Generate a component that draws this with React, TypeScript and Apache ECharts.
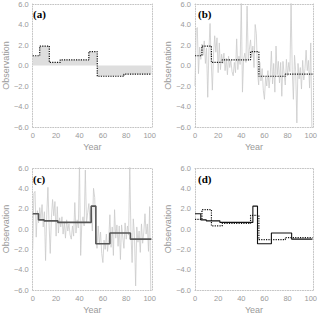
import React, { useEffect, useRef } from "react";
import * as echarts from "echarts";

// Noisy observation series, one value per year (0..101)
const noise: number[] = [
  -2.0, 3.5, 3.7, -0.8, 1.8, 0.6, 2.1, 1.0, 2.4, 0.2,
  1.7, -3.1, 1.4, 4.1, 0.4, -2.4, 1.1, 2.9, 1.3, 2.7,
  -0.7, 2.2, -0.4, 1.1, 0.2, 1.2, -0.5, 0.7, -0.9, 0.9,
  -0.2, 0.5, -0.6, -1.0, 0.3, -0.7, 2.6, -0.4, 0.9, 0.1,
  6.4, -2.6, 0.6, 1.2, 0.3, 5.8, 0.6, 1.6, 2.5, 0.8,
  1.9, -0.2, 4.0, 3.1, -0.6, -1.9, 0.3, -1.5, -0.3, -2.4,
  -3.3, -1.1, -2.0, -0.5, -2.2, -1.0, 1.4, -1.8, 0.2, -2.6,
  1.9, -0.9, 0.4, -1.7, 0.3, -3.0, 0.4, -0.8, -1.9, 0.6,
  -1.0, 0.3, -0.6, 6.2, -0.4, -3.3, 1.0, -0.6, -5.6, 0.2,
  -1.3, -0.2, -2.3, 0.5, -1.4, -0.3, 1.5, -0.5, 0.5, -2.2,
  2.2, -6.5,
];

// Dotted step (panels a, b, d): change points and levels
const dottedBreaks: number[] = [0, 6, 14.2, 23.5, 48, 55.2, 78, 101.5];
const dottedLevels: number[] = [0.95, 1.9, 0.3, 0.55, 1.35, -1.05, -0.85];

// Solid step (panels c, d)
const solidBreaks: number[] = [0, 5, 9.7, 21.5, 50, 54, 66, 83.5, 101.5];
const solidLevels: number[] = [1.5, 0.9, 0.8, 0.65, 2.25, -1.45, -0.4, -1.0];

const panelLabels: string[] = ["(a)", "(b)", "(c)", "(d)"];
const yTicks: number[] = [-6, 6, 2]; // min, max, interval
const xTicks: number[] = [0, 102, 20];

function stepData(breaks: number[], levels: number[]) {
  const d: number[][] = levels.map((v, i) => [breaks[i], v]);
  d.push([breaks[breaks.length - 1], levels[levels.length - 1]]);
  return d;
}

const grids = [
  { left: 30, top: 3, width: 122, height: 124 },
  { left: 195, top: 3, width: 120, height: 124 },
  { left: 30, top: 168, width: 122, height: 124 },
  { left: 195, top: 168, width: 120, height: 124 },
];

const FONT = "Liberation Sans, Arial, sans-serif";
const GRAY = "#9a9a9a";
const FRAME = "#c4c4c4";

export default function App() {
  const ref = useRef<HTMLDivElement>(null);
  useEffect(() => {
    if (!ref.current) return;
    const chart = echarts.init(ref.current, undefined, { renderer: "svg" });
    const noiseData = noise.map((v, i) => [i, v]);
    const dotted = stepData(dottedBreaks, dottedLevels);
    const solid = stepData(solidBreaks, solidLevels);

    const xAxis: any[] = [];
    const yAxis: any[] = [];
    grids.forEach((g, i) => {
      const frameLine = { show: true, onZero: false, lineStyle: { color: FRAME, type: [1, 1.5], width: 1 } };
      xAxis.push({
        type: "value", gridIndex: i, min: xTicks[0], max: xTicks[1], interval: xTicks[2],
        position: "bottom", axisLine: frameLine, axisTick: { show: false }, splitLine: { show: false },
        axisLabel: {
          color: GRAY, fontSize: 7.5, fontFamily: FONT, margin: 4,
          formatter: (v: number) => (v % 20 === 0 ? String(v) : ""),
        },
        name: "Year", nameLocation: "middle", nameGap: 15,
        nameTextStyle: { color: GRAY, fontSize: 9, fontFamily: FONT },
      });
      xAxis.push({
        type: "value", gridIndex: i, min: xTicks[0], max: xTicks[1], position: "top",
        axisLine: frameLine, axisTick: { show: false }, axisLabel: { show: false }, splitLine: { show: false },
      });
      yAxis.push({
        type: "value", gridIndex: i, min: yTicks[0], max: yTicks[1], interval: yTicks[2],
        position: "left", axisLine: frameLine, axisTick: { show: false }, splitLine: { show: false },
        axisLabel: {
          color: GRAY, fontSize: 7.5, fontFamily: FONT, margin: 4,
          formatter: (v: number) => v.toFixed(1).replace("-", "\u2212"),
        },
        name: "Observation", nameLocation: "middle", nameGap: i % 2 === 0 ? 19 : 21,
        nameTextStyle: { color: GRAY, fontSize: 9, fontFamily: FONT },
      });
      yAxis.push({
        type: "value", gridIndex: i, min: yTicks[0], max: yTicks[1], position: "right",
        axisLine: frameLine, axisTick: { show: false }, axisLabel: { show: false }, splitLine: { show: false },
      });
    });

    const ax = (i: number) => ({ xAxisIndex: 2 * i, yAxisIndex: 2 * i });
    const dottedStyle = { color: "#111", type: "dotted", width: 1.2 };
    const series: any[] = [
      {
        type: "line", ...ax(0), data: dotted, step: "end", symbol: "none",
        lineStyle: dottedStyle, areaStyle: { color: "#dedede", opacity: 1, origin: 0 },
      },
      { type: "line", ...ax(1), data: noiseData, symbol: "none", lineStyle: { color: "#cacaca", width: 0.8 } },
      { type: "line", ...ax(1), data: dotted, step: "end", symbol: "none", lineStyle: dottedStyle },
      { type: "line", ...ax(2), data: noiseData, symbol: "none", lineStyle: { color: "#cacaca", width: 0.8 } },
      { type: "line", ...ax(2), data: solid, step: "end", symbol: "none", lineStyle: { color: "#555", width: 1.6 } },
      { type: "line", ...ax(3), data: dotted, step: "end", symbol: "none", lineStyle: dottedStyle },
      { type: "line", ...ax(3), data: solid, step: "end", symbol: "none", lineStyle: { color: "#111", width: 1.1 } },
    ];

    const graphic = grids.map((g, i) => ({
      type: "text", left: g.left + 3, top: g.top + 5,
      style: { text: panelLabels[i], fill: "#000", font: "bold 11px 'Liberation Serif', 'Times New Roman', serif" },
    }));

    chart.setOption({ animation: false, grid: grids, xAxis, yAxis, series, graphic });
    return () => chart.dispose();
  }, []);
  return <div ref={ref} style={{ position: "fixed", left: 0, top: 0, width: 320, height: 315, background: "#fff" }} />;
}
